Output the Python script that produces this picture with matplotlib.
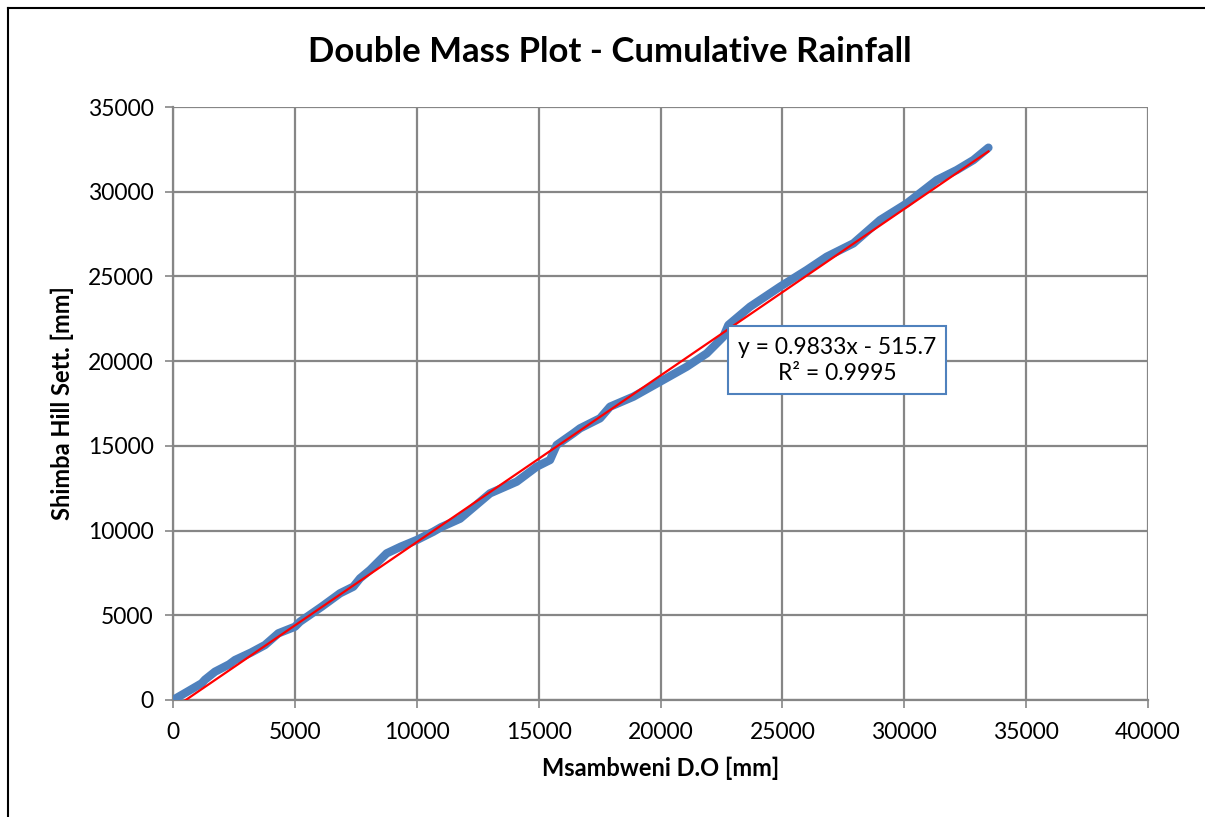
import numpy as np
import matplotlib
matplotlib.use("Agg")
import matplotlib.pyplot as plt
from matplotlib.lines import Line2D

plt.rcParams['font.family'] = ['Lato', 'DejaVu Sans']

# cumulative rainfall [mm]
msambweni = [0, 600, 1177, 1313, 1723, 2300, 2544, 3200, 3775, 4321, 5005, 5211,
             6100, 6852, 7398, 7673, 8083, 8493, 8767, 9341, 10000, 10680, 11000,
             11776, 13006, 14100, 14920, 15468, 15740, 16425, 16700, 17520, 17930,
             18886, 19982, 21077, 21898, 22580, 22785, 23675, 24905, 25999, 26820,
             27913, 29010, 30105, 31335, 32155, 32838, 33454]
shimba = [0, 500, 985, 1200, 1670, 2100, 2360, 2800, 3246, 3935, 4326, 4623,
          5507, 6297, 6688, 7180, 7673, 8263, 8657, 9048, 9443, 9933, 10200,
          10700, 12197, 12886, 13770, 14165, 15050, 15740, 16035, 16626, 17311,
          17901, 18786, 19672, 20459, 21443, 22133, 23213, 24393, 25377, 26164,
          26951, 28329, 29312, 30689, 31280, 31870, 32600]

# linear trendline as shown in the chart
slope = 0.9833
intercept = -515.7
r2 = 0.9995

x_ticks = [0, 5000, 10000, 15000, 20000, 25000, 30000, 35000, 40000]
y_ticks = [0, 5000, 10000, 15000, 20000, 25000, 30000, 35000]

fig = plt.figure(figsize=(12.05, 8.17), dpi=100)
ax = fig.add_axes([173 / 1205, 1 - 700 / 817, 975 / 1205, 593 / 817])

grid_col = '#868686'
ax.set_xlim(0, 40000)
ax.set_ylim(0, 35000)
ax.set_xticks(x_ticks)
ax.set_yticks(y_ticks)
ax.grid(True, color=grid_col, linewidth=1.6)
ax.set_axisbelow(True)
for s in ['top', 'right']:
    ax.spines[s].set_visible(False)
for s in ['left', 'bottom']:
    ax.spines[s].set_color(grid_col)
    ax.spines[s].set_linewidth(1.6)
ax.tick_params(axis='both', colors=grid_col, length=6, width=1.2,
               labelsize=16.5, labelcolor='black', direction='out')
ax.tick_params(axis='x', pad=10)
ax.tick_params(axis='y', pad=8)

# data
ax.plot(msambweni, shimba, color='#4F81BD', linewidth=6,
        solid_capstyle='round', solid_joinstyle='round', zorder=3)

# trendline
xt = np.array([0, msambweni[-1]])
ax.plot(xt, slope * xt + intercept, color='#FF0000', linewidth=1.6, zorder=4)

ax.text(0.681, 0.573, 'y = %.4fx - %.1f\nR² = %.4f' % (slope, -intercept, r2),
        transform=ax.transAxes, ha='center', va='center', fontsize=16.5,
        linespacing=1.3, zorder=5,
        bbox=dict(boxstyle='square,pad=0.45', facecolor='white',
                  edgecolor='#4F81BD', linewidth=1.5))

ax.set_xlabel('Msambweni D.O [mm]', fontsize=17, fontweight='bold', labelpad=10)
ax.set_ylabel('Shimba Hill Sett. [mm]', fontsize=17, fontweight='bold', labelpad=10)
fig.text(610 / 1205, 1 - 52 / 817, 'Double Mass Plot - Cumulative Rainfall',
         ha='center', va='center', fontsize=25, fontweight='bold')

# chart border (left and top edges visible)
fig.add_artist(Line2D([8 / 1205, 8 / 1205], [0, 1 - 7.5 / 817],
                      transform=fig.transFigure, color='black', linewidth=1.5))
fig.add_artist(Line2D([8 / 1205, 1], [1 - 7.5 / 817, 1 - 7.5 / 817],
                      transform=fig.transFigure, color='black', linewidth=1.5))

fig.savefig('out.png', dpi=100)
